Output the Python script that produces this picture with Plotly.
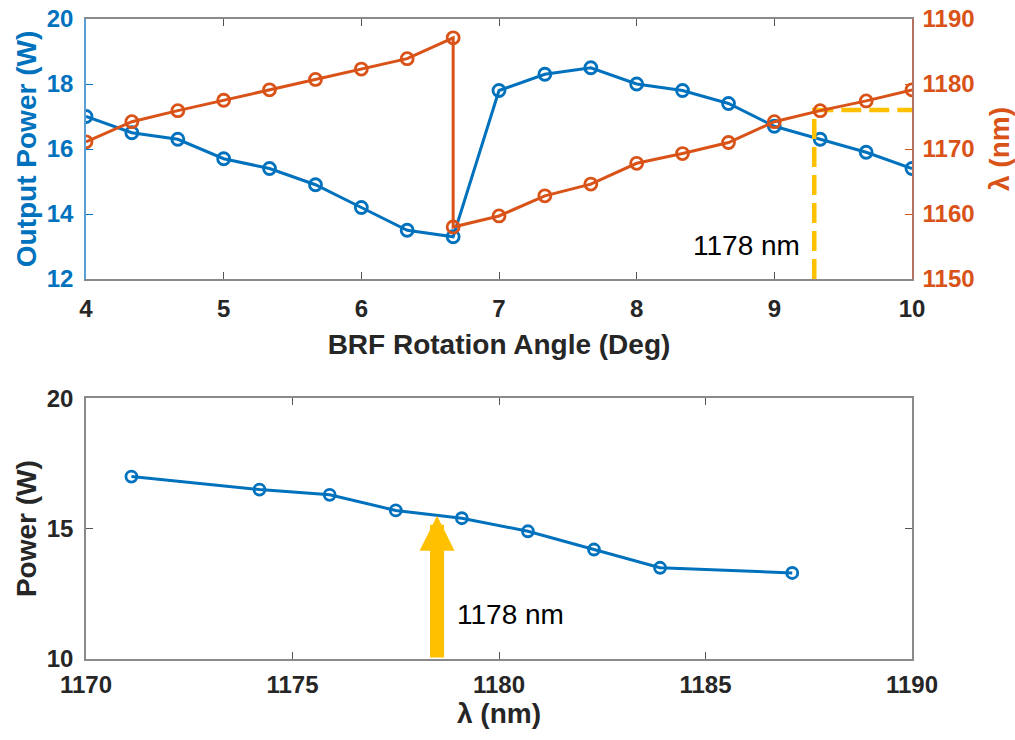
import plotly.graph_objects as go

# ---------------- data ----------------
angle = [4.0, 4.333, 4.667, 5.0, 5.333, 5.667, 6.0, 6.333, 6.667, 7.0,
         7.333, 7.667, 8.0, 8.333, 8.667, 9.0, 9.333, 9.667, 10.0]
power = [17.0, 16.5, 16.3, 15.7, 15.4, 14.9, 14.2, 13.5, 13.3, 17.8,
         18.3, 18.5, 18.0, 17.8, 17.4, 16.7, 16.3, 15.9, 15.4]

angle_wl = [4.0, 4.333, 4.667, 5.0, 5.333, 5.667, 6.0, 6.333, 6.667, 6.667,
            7.0, 7.333, 7.667, 8.0, 8.333, 8.667, 9.0, 9.333, 9.667, 10.0]
wavelength = [1171.1, 1174.2, 1175.9, 1177.5, 1179.1, 1180.7, 1182.3, 1183.9, 1187.1, 1158.0,
              1159.7, 1162.8, 1164.6, 1167.8, 1169.3, 1171.0, 1174.2, 1175.9, 1177.4, 1179.1]

wl_bottom = [1171.1, 1174.2, 1175.9, 1177.5, 1179.1, 1180.7, 1182.3, 1183.9, 1187.1]
power_bottom = [17.0, 16.5, 16.3, 15.7, 15.4, 14.9, 14.2, 13.5, 13.3]

marker_angle = 9.29
marker_wl = 1176.0
arrow_wl = 1178.5
arrow_power = 15.5
label_text = "1178 nm"

top_x_ticks = [4, 5, 6, 7, 8, 9, 10]
top_y_ticks = [12, 14, 16, 18, 20]
top_y2_ticks = [1150, 1160, 1170, 1180, 1190]
bot_x_ticks = [1170, 1175, 1180, 1185, 1190]
bot_y_ticks = [10, 15, 20]

# ---------------- style ----------------
BLUE = "#0072BD"
ORANGE = "#D95319"
GOLD = "#FFC000"
DARK = "#262626"
FONT = "Liberation Sans, Arial, sans-serif"

fig = go.Figure()

fig.add_trace(go.Scatter(
    x=angle, y=power, xaxis="x", yaxis="y", mode="lines+markers",
    line=dict(color=BLUE, width=3),
    marker=dict(symbol="circle-open", size=12, color=BLUE, line=dict(width=2.8)),
    showlegend=False))

fig.add_trace(go.Scatter(
    x=[marker_angle, marker_angle, angle[-1]], y=[top_y2_ticks[0], marker_wl, marker_wl],
    xaxis="x", yaxis="y2", mode="lines",
    line=dict(color=GOLD, width=4.5, dash="20px,8px"), showlegend=False))

fig.add_trace(go.Scatter(
    x=angle_wl, y=wavelength, xaxis="x", yaxis="y2", mode="lines+markers",
    line=dict(color=ORANGE, width=3),
    marker=dict(symbol="circle-open", size=12, color=ORANGE, line=dict(width=2.8)),
    showlegend=False))

fig.add_trace(go.Scatter(
    x=wl_bottom, y=power_bottom, xaxis="x2", yaxis="y3", mode="lines+markers",
    line=dict(color=BLUE, width=3),
    marker=dict(symbol="circle-open", size=11, color=BLUE, line=dict(width=2.8)),
    showlegend=False))

tick_font = dict(family=FONT, size=24, weight="bold")
title_font = dict(family=FONT, size=28, weight="bold")

common = dict(showgrid=False, zeroline=False, showline=True, linewidth=1.5,
              ticks="inside", ticklen=7, tickwidth=1.2, automargin=False)

fig.update_layout(
    width=1015, height=740,
    margin=dict(l=86, r=103, t=19, b=81),
    plot_bgcolor="white", paper_bgcolor="white",
    xaxis=dict(domain=[0, 1], anchor="y", range=[4, 10], tickvals=top_x_ticks,
               linecolor="#8a8a8a", tickcolor="#555555", mirror="ticks",
               tickfont=dict(color=DARK, **tick_font), ticklabelstandoff=7,
               title=dict(text="BRF Rotation Angle (Deg)", font=dict(color=DARK, **title_font),
                          standoff=14),
               **common),
    yaxis=dict(domain=[0.59375, 1], anchor="x", range=[12, 20], tickvals=top_y_ticks,
               linecolor="#5a9fd4", tickcolor=BLUE,
               tickfont=dict(color=BLUE, **tick_font), ticklabelstandoff=6,
               title=dict(text="Output Power (W)", font=dict(color=BLUE, **title_font),
                          standoff=2),
               **common),
    yaxis2=dict(overlaying="y", anchor="x", side="right", range=[1150, 1190],
                tickvals=top_y2_ticks,
                linecolor="#b87060", tickcolor=ORANGE,
                tickfont=dict(color=ORANGE, **tick_font), ticklabelstandoff=4,
                title=dict(text="λ (nm)", font=dict(color=ORANGE, **title_font),
                           standoff=19),
                **common),
    xaxis2=dict(domain=[0, 1], anchor="y3", range=[1170, 1190], tickvals=bot_x_ticks,
                linecolor="#8a8a8a", tickcolor="#555555", mirror="ticks",
                tickfont=dict(color=DARK, **tick_font), ticklabelstandoff=3,
                title=dict(text="λ (nm)", font=dict(color=DARK, **title_font), standoff=4),
                **common),
    yaxis3=dict(domain=[0, 0.4073], anchor="x2", range=[10, 20], tickvals=bot_y_ticks,
                linecolor="#8a8a8a", tickcolor="#555555", mirror="ticks",
                tickfont=dict(color=DARK, **tick_font), ticklabelstandoff=6,
                title=dict(text="Power (W)", font=dict(color=DARK, **title_font), standoff=2),
                **common),
    annotations=[
        dict(x=9.2, y=1155.1, xref="x", yref="y2", text=label_text, showarrow=False,
             xanchor="right", yanchor="middle",
             font=dict(family=FONT, size=28, color="black")),
        dict(x=1178.93, y=11.7, xref="x2", yref="y3", text=label_text, showarrow=False,
             xanchor="left", yanchor="middle",
             font=dict(family=FONT, size=28, color="black")),
        dict(x=arrow_wl, y=arrow_power, xref="x2", yref="y3",
             ax=arrow_wl, ay=bot_y_ticks[0], axref="x2", ayref="y3",
             text="", showarrow=True, arrowhead=2, arrowwidth=14, arrowsize=0.5,
             arrowcolor=GOLD, standoff=0),
    ],
)

fig.write_html("out.html")
